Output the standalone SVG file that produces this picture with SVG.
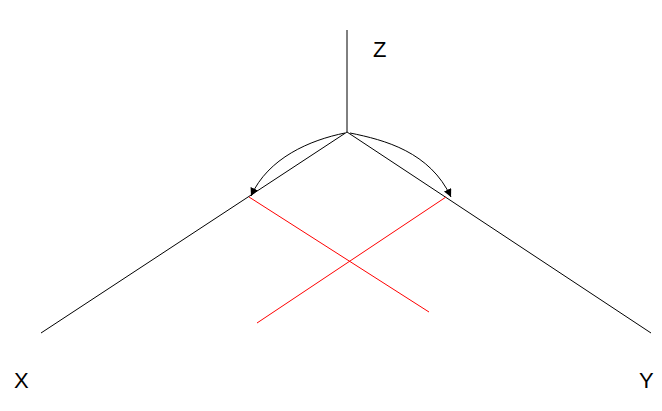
<svg xmlns="http://www.w3.org/2000/svg" width="662" height="411" viewBox="0 0 662 411">
<style>
.ax{stroke:#000;stroke-width:1;fill:none}
.rd{stroke:#ff0000;stroke-width:1;fill:none}
.lb{font-family:"Liberation Sans",Arial,sans-serif;font-size:22px;fill:#000}
</style>
<defs>
<marker id="ah" viewBox="0 0 10 10" refX="10" refY="5" markerWidth="8" markerHeight="8" markerUnits="userSpaceOnUse" orient="auto">
<path d="M0,0 L10,5 L0,10 z" fill="#000"/>
</marker>
</defs>
<rect width="662" height="411" fill="#fff"/>
<g id="connectors">
<line class="ax" x1="347" y1="30" x2="347" y2="132"/>
<line class="ax" x1="347" y1="132" x2="41" y2="333"/>
<line class="ax" x1="347" y1="132" x2="651" y2="333"/>
<line class="rd" x1="249" y1="197" x2="429" y2="312"/>
<line class="rd" x1="446" y1="197" x2="257" y2="323"/>
<path class="ax" d="M345,133 C310,140 268,158 251,196" marker-end="url(#ah)"/>
<path class="ax" d="M350,133 C385,140 430,152 451,197" marker-end="url(#ah)"/>
</g>
<g id="labelZ"><text class="lb" x="373" y="57">Z</text></g>
<g id="labelX"><text class="lb" x="14" y="388">X</text></g>
<g id="labelY"><text class="lb" x="639" y="388">Y</text></g>
</svg>
